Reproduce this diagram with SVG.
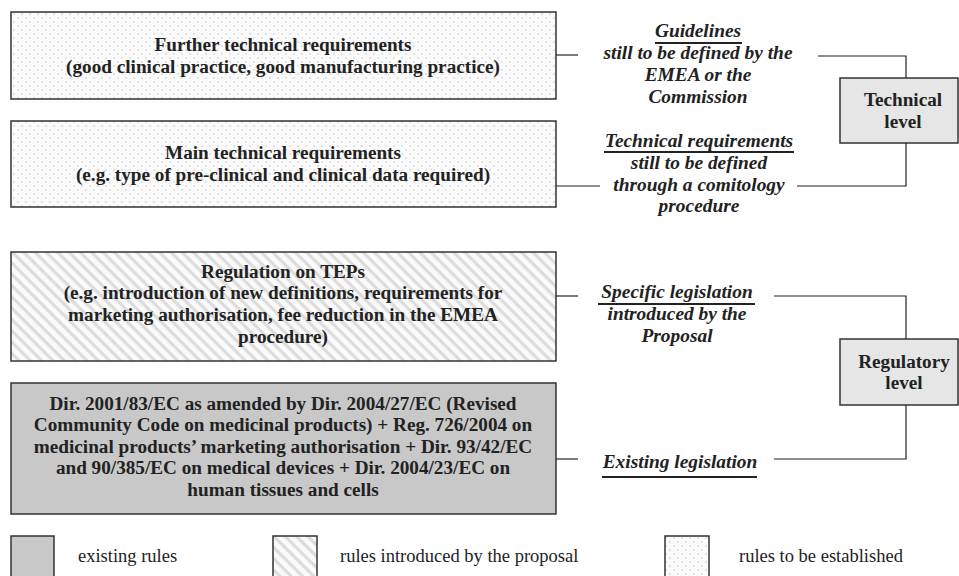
<svg xmlns="http://www.w3.org/2000/svg" width="959" height="576" viewBox="0 0 959 576">
<defs>
<pattern id="dots" width="8" height="8" patternUnits="userSpaceOnUse">
<rect width="8" height="8" fill="#fbfbfb"/>
<circle cx="2" cy="2" r="0.9" fill="#d8d8d8"/>
<circle cx="6" cy="6" r="0.9" fill="#d8d8d8"/>
</pattern>
<pattern id="hatch" width="8" height="8" patternUnits="userSpaceOnUse" patternTransform="rotate(45)">
<rect width="8" height="8" fill="#fafafa"/>
<rect x="0" y="0" width="8" height="3.2" fill="#dcdcdc"/>
</pattern>
</defs>
<style>
.box{stroke:#333;stroke-width:1.5}
.bt{font-family:"Liberation Serif","Times New Roman",serif;font-weight:bold;font-size:19.2px;fill:#222;text-anchor:middle}
.lt{font-family:"Liberation Serif","Times New Roman",serif;font-weight:bold;font-style:italic;font-size:19.4px;fill:#222;text-anchor:middle}
.lg{font-family:"Liberation Serif","Times New Roman",serif;font-size:18.5px;fill:#222}
.ln{stroke:#222;stroke-width:1.2;fill:none}
.ul{stroke:#222;stroke-width:2}
</style>
<rect width="959" height="576" fill="#fff"/>
<g id="further">
<rect class="box" x="11" y="12" width="545" height="87" fill="url(#dots)"/>
<text class="bt" x="283" y="51">Further technical requirements</text>
<text class="bt" x="283" y="73">(good clinical practice, good manufacturing practice)</text>
</g>
<g id="main">
<rect class="box" x="11" y="121" width="545" height="86" fill="url(#dots)"/>
<text class="bt" x="283" y="159">Main technical requirements</text>
<text class="bt" x="283" y="181">(e.g. type of pre-clinical and clinical data required)</text>
</g>
<g id="regulation">
<rect class="box" x="11" y="252" width="545" height="109" fill="url(#hatch)"/>
<text class="bt" x="283" y="278">Regulation on TEPs</text>
<text class="bt" x="283" y="299">(e.g. introduction of new definitions, requirements for</text>
<text class="bt" x="283" y="321">marketing authorisation, fee reduction in the EMEA</text>
<text class="bt" x="283" y="343">procedure)</text>
</g>
<g id="directive">
<rect class="box" x="11" y="383" width="545" height="131" fill="#c8c8c8"/>
<text class="bt" x="283" y="410">Dir. 2001/83/EC as amended by Dir. 2004/27/EC (Revised</text>
<text class="bt" x="283" y="431">Community Code on medicinal products) + Reg. 726/2004 on</text>
<text class="bt" x="283" y="453">medicinal products’ marketing authorisation + Dir. 93/42/EC</text>
<text class="bt" x="283" y="474">and 90/385/EC on medical devices + Dir. 2004/23/EC on</text>
<text class="bt" x="283" y="496">human tissues and cells</text>
</g>
<g id="technical-level">
<rect class="box" x="840" y="78" width="118" height="65" fill="#e6e6e6"/>
<text class="bt" x="903" y="106">Technical</text>
<text class="bt" x="903" y="128">level</text>
</g>
<g id="regulatory-level">
<rect class="box" x="840" y="339" width="118" height="66" fill="#e6e6e6"/>
<text class="bt" x="904" y="368">Regulatory</text>
<text class="bt" x="904" y="389">level</text>
</g>
<g id="guidelines">
<text class="lt" x="698" y="37">Guidelines</text>
<line class="ul" x1="655" y1="43" x2="742" y2="43"/>
<text class="lt" x="698" y="59">still to be defined by the</text>
<text class="lt" x="698" y="81">EMEA or the</text>
<text class="lt" x="698" y="103">Commission</text>
</g>
<g id="tech-req">
<text class="lt" x="699" y="147">Technical requirements</text>
<line class="ul" x1="604" y1="152" x2="794" y2="152"/>
<text class="lt" x="699" y="169">still to be defined</text>
<text class="lt" x="699" y="191">through a comitology</text>
<text class="lt" x="699" y="212">procedure</text>
</g>
<g id="specific">
<text class="lt" x="677" y="298">Specific  legislation</text>
<line class="ul" x1="598" y1="304" x2="755" y2="304"/>
<text class="lt" x="677" y="320">introduced by the</text>
<text class="lt" x="677" y="342">Proposal</text>
</g>
<g id="existing">
<text class="lt" x="680" y="468">Existing legislation</text>
<line class="ul" x1="602" y1="477" x2="757" y2="477"/>
</g>
<g id="connectors">
<line class="ln" x1="556" y1="55" x2="578" y2="55"/>
<polyline class="ln" points="818,56 906,56 906,78"/>
<polyline class="ln" points="906,143 906,186 797,186"/>
<line class="ln" x1="556" y1="186" x2="600" y2="186"/>
<line class="ln" x1="556" y1="296" x2="578" y2="296"/>
<polyline class="ln" points="774,296 906,296 906,339"/>
<polyline class="ln" points="906,405 906,459 774,459"/>
<line class="ln" x1="556" y1="459" x2="578" y2="459"/>
</g>
<g id="legend">
<rect class="box" x="11" y="536" width="43" height="42" fill="#c8c8c8"/>
<text class="lg" x="78" y="562">existing rules</text>
<rect class="box" x="273" y="536" width="44" height="42" fill="url(#hatch)"/>
<text class="lg" x="340" y="562">rules introduced by the proposal</text>
<rect class="box" x="665" y="536" width="44" height="42" fill="url(#dots)"/>
<text class="lg" x="739" y="562">rules to be established</text>
</g>
</svg>
